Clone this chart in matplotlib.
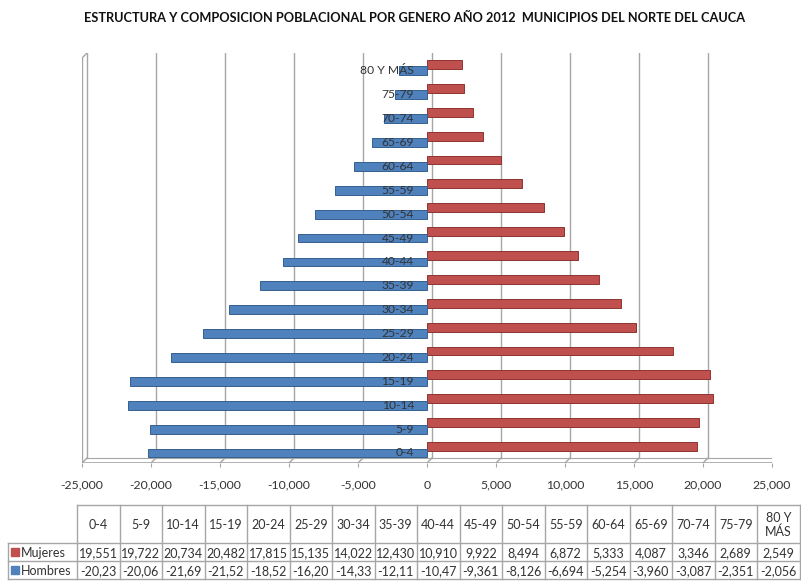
import numpy as np
import matplotlib.pyplot as plt
from matplotlib.patches import Rectangle
from matplotlib.transforms import ScaledTranslation

plt.rcParams["font.family"] = ["Lato", "DejaVu Sans"]

# Datos
grupos = ["0-4", "5-9", "10-14", "15-19", "20-24", "25-29", "30-34", "35-39",
          "40-44", "45-49", "50-54", "55-59", "60-64", "65-69", "70-74",
          "75-79", "80 Y MÁS"]
mujeres = [19551, 19722, 20734, 20482, 17815, 15135, 14022, 12430, 10910,
           9922, 8494, 6872, 5333, 4087, 3346, 2689, 2549]
hombres = [-20230, -20060, -21690, -21520, -18520, -16200, -14330, -12110,
           -10470, -9361, -8126, -6694, -5254, -3960, -3087, -2351, -2056]
ticks_x = [-25000, -20000, -15000, -10000, -5000, 0, 5000, 10000, 15000,
           20000, 25000]
titulo = ("ESTRUCTURA Y COMPOSICION POBLACIONAL POR GENERO AÑO 2012  "
          "MUNICIPIOS DEL NORTE DEL CAUCA")

AZUL = "#4F81BD"
ROJO = "#C0504D"
GRIS = "#A6A6A6"
TEXTO = "#333333"

W, H = 801, 585
fig = plt.figure(figsize=(W / 100, H / 100), dpi=100)

# zona del grafico (pixeles)
x0, x1 = 82, 772
yb, yt = 463, 53
ax = fig.add_axes([x0 / W, 1 - yb / H, (x1 - x0) / W, (yb - yt) / H])
ax.set_xlim(-25000, 25000)
ymin, ymax = -0.42, 16.75
ax.set_ylim(ymin, ymax)

# efecto 3D: desplazamiento de la pared del fondo (5 px)
dx = 5 * 50000 / (x1 - x0)
dy = 5 * (ymax - ymin) / (yb - yt)

for t in ticks_x:
    ax.plot([t + dx, t + dx], [ymin + dy, ymax], color=GRIS, lw=1, zorder=1)
    ax.plot([t, t + dx], [ymin, ymin + dy], color=GRIS, lw=1, zorder=1)
# piso
ax.plot([-25000, 25000], [ymin, ymin], color=GRIS, lw=1.2, zorder=1)
ax.plot([-25000 + dx, 25000 + dx], [ymin + dy, ymin + dy], color=GRIS, lw=0.8,
        zorder=1)
# pared izquierda
ax.plot([-25000, -25000], [ymin, ymax - dy], color=GRIS, lw=1, zorder=1)
ax.plot([-25000, -25000 + dx], [ymax - dy, ymax], color=GRIS, lw=1, zorder=1)

pos = np.arange(len(grupos))
ax.barh(pos + 0.27, mujeres, height=0.37, color=ROJO, edgecolor="#8E3431",
        lw=0.7, zorder=3)
ax.barh(pos, hombres, height=0.37, color=AZUL, edgecolor="#35608F",
        lw=0.7, zorder=4)

off = ax.transData + ScaledTranslation(-13 / 100, 0, fig.dpi_scale_trans)
for p, g in zip(pos, grupos):
    ax.text(0, p, g, ha="right", va="center", fontsize=8.7, color=TEXTO,
            transform=off, zorder=5)

for s in ax.spines.values():
    s.set_visible(False)
ax.set_yticks([])
ax.set_xticks(ticks_x)
ax.set_xticklabels([f"{t:,}" for t in ticks_x], fontsize=8.8, color=TEXTO)
ax.tick_params(axis="x", length=3, color=GRIS, pad=9)

fig.text(415 / W, 1 - 18 / H, titulo, ha="center", va="center",
         fontsize=9.2, fontweight="bold", color="#111111")

# tabla de datos
tb = fig.add_axes([0, 0, 1, 1], facecolor="none")
tb.set_xlim(0, W)
tb.set_ylim(H, 0)
tb.axis("off")

c0, cw, lab0 = 77, 42.5, 8
filas = [505, 543, 561, 579]
n = len(grupos)
tb.plot([c0, c0 + n * cw], [filas[0], filas[0]], color=GRIS, lw=1)
for yv in filas[1:]:
    tb.plot([lab0, c0 + n * cw], [yv, yv], color=GRIS, lw=1)
tb.plot([lab0, lab0], [filas[1], filas[3]], color=GRIS, lw=1)
for k in range(n + 1):
    xv = c0 + k * cw
    tb.plot([xv, xv], [filas[0], filas[3]], color=GRIS, lw=1)

for k, g in enumerate(grupos):
    xc = c0 + (k + 0.5) * cw
    etiqueta = g.replace("80 Y MÁS", "80 Y\nMÁS")
    tb.text(xc, (filas[0] + filas[1]) / 2 + 1, etiqueta, ha="center",
            va="center", fontsize=9, color=TEXTO, linespacing=1.1)
    tb.text(xc, (filas[1] + filas[2]) / 2 + 1, f"{mujeres[k]:,}",
            ha="center", va="center", fontsize=9, color=TEXTO)
    tb.text(xc, (filas[2] + filas[3]) / 2 + 1, f"{hombres[k]:,}"[:6],
            ha="center", va="center", fontsize=9, color=TEXTO)

for fila, nombre, col in [(1, "Mujeres", ROJO), (2, "Hombres", AZUL)]:
    yc = (filas[fila] + filas[fila + 1]) / 2
    tb.add_patch(Rectangle((11, yc - 4), 8, 8, color=col))
    tb.text(21, yc + 1, nombre, ha="left", va="center", fontsize=9,
            color=TEXTO)

fig.savefig("out.png", dpi=100)
